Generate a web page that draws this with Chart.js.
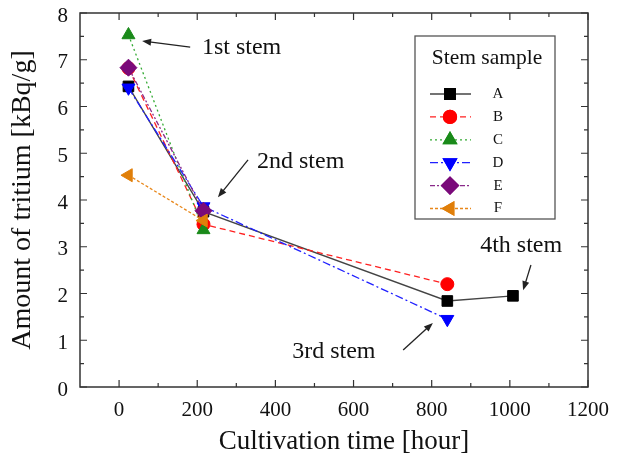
<!DOCTYPE html>
<html>
<head>
<meta charset="utf-8">
<script src="https://cdn.jsdelivr.net/npm/chart.js@4.4.1/dist/chart.umd.min.js"></script>
<style>
html,body{margin:0;padding:0;background:#fff;}
#wrap{width:623px;height:463px;position:relative;}
</style>
</head>
<body>
<div id="wrap"><canvas id="c" width="623" height="463"></canvas></div>
<script>
// ---- data ----
const seriesNames = ['A', 'B', 'C', 'D', 'E', 'F'];
const timeA = [24, 216, 840, 1008];
const valA  = [6.43, 3.75, 1.84, 1.95];
const timeB = [24, 216, 840];
const valB  = [6.82, 3.48, 2.20];
const timeC = [24, 216];
const valC  = [7.53, 3.36];
const timeD = [24, 216, 840];
const valD  = [6.40, 3.86, 1.45];
const timeE = [24, 216];
const valE  = [6.83, 3.77];
const timeF = [24, 216];
const valF  = [4.53, 3.56];
const xTickLabels = [0, 200, 400, 600, 800, 1000, 1200];
const yTickLabels = [0, 1, 2, 3, 4, 5, 6, 7, 8];
const xTitle = 'Cultivation time [hour]';
const yTitle = 'Amount of tritium [kBq/g]';
const legendTitle = 'Stem sample';
const annotationLabels = ['1st stem', '2nd stem', '3rd stem', '4th stem'];
// annotation anchors in data units [textX, textY, arrowFromX, arrowFromY, arrowToX, arrowToY]
const annotationAnchors = [
  [212, 7.25, 182, 7.27, 59, 7.40],
  [353, 4.81, 330, 4.86, 253, 4.06],
  [443, 0.75, 727, 0.79, 803, 1.37],
  [924, 3.02, 1054, 2.61, 1034, 2.07]
];

const SERIF = '"Liberation Serif", "DejaVu Serif", serif';
const styles = [
  {line:'#444444', fill:'#000000', dash:[], shape:'rect', r:7.5, rot:0},
  {line:'#ff2020', fill:'#ff0000', dash:[6,4], shape:'circle', r:6.5, rot:0},
  {line:'#33aa33', fill:'#1a8a1a', dash:[2,3], shape:'triangle', r:7.5, rot:0},
  {line:'#2020ff', fill:'#0000ff', dash:[8,3,2,3], shape:'triangle', r:7.5, rot:180},
  {line:'#8a2a8a', fill:'#7a0a7a', dash:[5,2,2,2,2,2], shape:'rectRot', r:8.5, rot:0},
  {line:'#e8871a', fill:'#e07f0a', dash:[3,2], shape:'triangle', r:7.5, rot:270}
];
const times = [timeA, timeB, timeC, timeD, timeE, timeF];
const vals = [valA, valB, valC, valD, valE, valF];

const datasets = seriesNames.map((n, i) => ({
  label: n,
  data: times[i].map((t, k) => ({x: t, y: vals[i][k]})),
  borderColor: styles[i].line,
  borderWidth: 1.3,
  borderDash: styles[i].dash,
  pointStyle: styles[i].shape,
  pointRadius: styles[i].r,
  pointRotation: styles[i].rot,
  pointBackgroundColor: styles[i].fill,
  pointBorderColor: styles[i].fill,
  pointBorderWidth: 1,
  showLine: true,
  fill: false,
  tension: 0,
  order: seriesNames.length - i
}));

const framePlugin = {
  id: 'frame',
  afterDatasetsDraw(chart) {
    const {ctx, chartArea: a, scales: {x, y}} = chart;
    ctx.save();
    ctx.strokeStyle = '#333333';
    ctx.lineWidth = 1.5;
    ctx.setLineDash([]);
    ctx.strokeRect(a.left, a.top, a.right - a.left, a.bottom - a.top);
    ctx.lineWidth = 1.2;
    for (let v = 0; v <= 1200; v += 100) {
      const px = x.getPixelForValue(v);
      const len = (v % 200 === 0) ? 7 : 4;
      ctx.beginPath();
      ctx.moveTo(px, a.bottom); ctx.lineTo(px, a.bottom - len);
      ctx.moveTo(px, a.top); ctx.lineTo(px, a.top + len);
      ctx.stroke();
    }
    for (let k = 0; k <= 16; k++) {
      const py = y.getPixelForValue(k / 2);
      const len = (k % 2 === 0) ? 7 : 4;
      ctx.beginPath();
      ctx.moveTo(a.left, py); ctx.lineTo(a.left + len, py);
      ctx.moveTo(a.right, py); ctx.lineTo(a.right - len, py);
      ctx.stroke();
    }
    ctx.restore();
  },
  afterDraw(chart) {
    const {ctx, chartArea: a, scales: {x, y}} = chart;
    ctx.save();
    ctx.textBaseline = 'middle';
    // x axis title
    ctx.fillStyle = '#111';
    ctx.font = '27px ' + SERIF;
    ctx.textAlign = 'center';
    ctx.fillText(xTitle, (a.left + a.right) / 2 + 10, a.bottom + 55);
    // annotations
    ctx.font = '24px ' + SERIF;
    ctx.textAlign = 'left';
    annotationLabels.forEach((t, i) => {
      const an = annotationAnchors[i];
      ctx.fillStyle = '#111';
      ctx.fillText(t, x.getPixelForValue(an[0]), y.getPixelForValue(an[1]));
      const x1 = x.getPixelForValue(an[2]), y1 = y.getPixelForValue(an[3]);
      const x2 = x.getPixelForValue(an[4]), y2 = y.getPixelForValue(an[5]);
      const ang = Math.atan2(y2 - y1, x2 - x1);
      const hl = 9, hw = 3.5;
      ctx.strokeStyle = '#222';
      ctx.lineWidth = 1.3;
      ctx.setLineDash([]);
      ctx.beginPath();
      ctx.moveTo(x1, y1);
      ctx.lineTo(x2 - Math.cos(ang) * hl * 0.8, y2 - Math.sin(ang) * hl * 0.8);
      ctx.stroke();
      ctx.beginPath();
      ctx.moveTo(x2, y2);
      ctx.lineTo(x2 - Math.cos(ang) * hl - Math.sin(ang) * hw, y2 - Math.sin(ang) * hl + Math.cos(ang) * hw);
      ctx.lineTo(x2 - Math.cos(ang) * hl + Math.sin(ang) * hw, y2 - Math.sin(ang) * hl - Math.cos(ang) * hw);
      ctx.closePath();
      ctx.fillStyle = '#222';
      ctx.fill();
    });
    // legend box
    const bx = a.left + 335, by = a.top + 23, bw = 140, bh = 183;
    ctx.fillStyle = '#fff';
    ctx.fillRect(bx, by, bw, bh);
    ctx.strokeStyle = '#555';
    ctx.lineWidth = 1.3;
    ctx.strokeRect(bx, by, bw, bh);
    ctx.fillStyle = '#111';
    ctx.font = '21.5px ' + SERIF;
    ctx.textAlign = 'center';
    ctx.fillText(legendTitle, bx + 72, by + 22);
    ctx.font = '15px ' + SERIF;
    chart.data.datasets.forEach((ds, i) => {
      const ly = by + 58 + i * 22.9;
      const lx1 = bx + 15, lx2 = bx + 56, mx = bx + 35;
      ctx.strokeStyle = ds.borderColor;
      ctx.lineWidth = 1.3;
      ctx.setLineDash(ds.borderDash);
      ctx.beginPath();
      ctx.moveTo(lx1, ly); ctx.lineTo(lx2, ly);
      ctx.stroke();
      ctx.setLineDash([]);
      Chart.helpers.drawPoint(ctx, {
        pointStyle: ds.pointStyle, radius: ds.pointRadius, rotation: ds.pointRotation, borderWidth: 1
      }, mx, ly);
      ctx.fillStyle = ds.pointBackgroundColor;
      ctx.strokeStyle = ds.pointBorderColor;
      ctx.fill(); ctx.stroke();
      ctx.fillStyle = '#111';
      ctx.textAlign = 'center';
      ctx.fillText(ds.label, bx + 83, ly);
    });
    ctx.restore();
  }
};

new Chart(document.getElementById('c'), {
  type: 'scatter',
  data: {datasets},
  options: {
    responsive: false,
    animation: false,
    devicePixelRatio: 1,
    layout: {padding: {left: 0, right: 35, top: 13, bottom: 0}},
    plugins: {legend: {display: false}, tooltip: {enabled: false}},
    scales: {
      x: {
        type: 'linear', min: -100, max: 1200,
        grid: {display: false, drawTicks: false},
        border: {display: false},
        afterFit: s => { s.height = 76; s.paddingLeft = 0; s.paddingRight = 0; },
        afterBuildTicks: s => { s.ticks = xTickLabels.map(v => ({value: v})); },
        ticks: {
          padding: 11, color: '#111', font: {family: SERIF, size: 21},
          autoSkip: false, maxRotation: 0, callback: v => String(v)
        },
        title: {display: false}
      },
      y: {
        type: 'linear', min: 0, max: 8,
        grid: {display: false, drawTicks: false},
        border: {display: false},
        afterFit: s => { s.width = 80; s.paddingTop = 0; s.paddingBottom = 0; },
        afterBuildTicks: s => { s.ticks = yTickLabels.map(v => ({value: v})); },
        ticks: {
          padding: 12, color: '#111', font: {family: SERIF, size: 21}, labelOffset: 3,
          callback: v => String(v)
        },
        title: {display: true, text: yTitle, color: '#111',
          font: {family: SERIF, size: 28}, padding: {top: 6, bottom: 0}}
      }
    }
  },
  plugins: [framePlugin]
});
</script>
</body>
</html>
